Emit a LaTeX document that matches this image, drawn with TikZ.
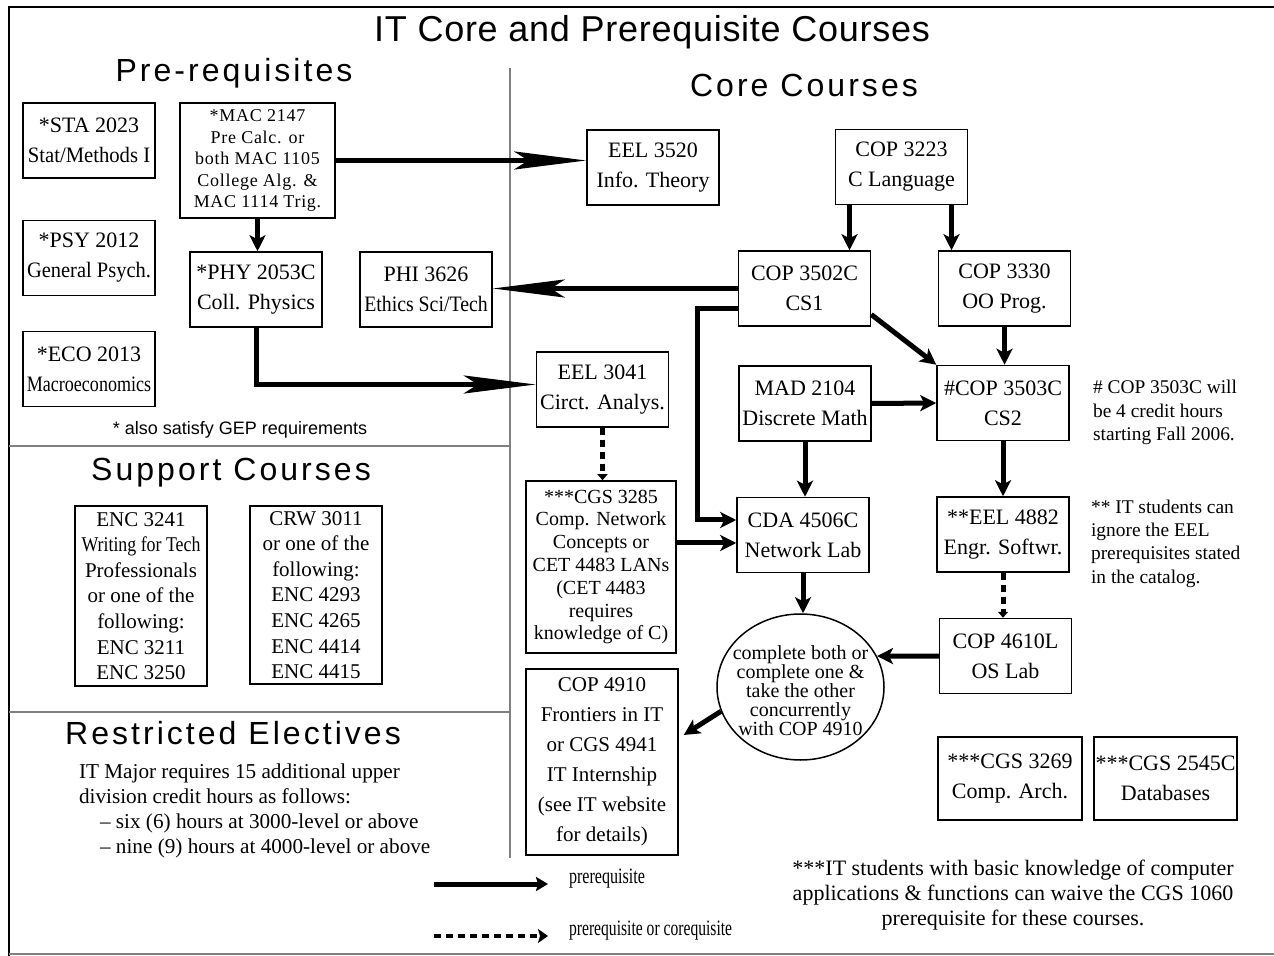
\documentclass[tikz,border=0pt]{standalone}
\usepackage{graphicx}
\usepackage{fontspec}
\setmainfont{Liberation Serif}
\setsansfont{Liberation Sans}
\newfontfamily\titlefont[LetterSpace=2]{Liberation Sans}
\newfontfamily\headfont[LetterSpace=9.5]{Liberation Sans}
\newfontfamily\macfont[LetterSpace=4]{Liberation Serif}
\usetikzlibrary{arrows.meta, shapes.geometric}
\newcommand{\squeeze}[2]{\scalebox{#1}[1]{#2}}

\begin{document}
\begin{tikzpicture}[x=0.5pt, y=-0.5pt,
  course/.style={draw, line width=0.75pt, align=center, inner sep=0pt,
    minimum width=66pt, minimum height=37.5pt, font=\fontsize{11}{15}\selectfont},
  heading/.style={anchor=base, font=\headfont\fontsize{16}{18}\selectfont},
  note/.style={align=left, font=\fontsize{9.7}{11.7}\selectfont},
  arr/.style={line width=2.5pt, -{Stealth[length=8pt, width=8pt, inset=2pt]}},
  longarr/.style={line width=2.5pt, -{Stealth[length=36pt, width=9pt, inset=7pt]}},
  dotarr/.style={line width=2.5pt, dash pattern=on 3.5pt off 2.5pt, -{Triangle[length=3pt, width=5pt]}},
  divider/.style={gray, line width=0.6pt}]
  \useasboundingbox (0,0) rectangle (1274,956);

  % frame and the three boxes on the left
  \draw[line width=1pt] (9,956) -- (9,7) -- (1274,7);
  \draw[divider] (9,954) -- (1274,954);
  \draw[divider] (510,68) -- (510,858);
  \draw[divider] (9,446) -- (510,446);
  \draw[divider] (9,712) -- (510,712);

  % headings
  \node[anchor=base, font=\titlefont\fontsize{18}{20}\selectfont] (title) at (652,42) {IT Core and Prerequisite Courses};
  \node[heading] (prehead) at (234,82) {Pre-requisites};
  \node[heading] (corehead) at (804,97) {Core Courses};
  \node[heading] (supphead) at (231,481) {Support Courses};
  \node[heading] (restrhead) at (233,744) {Restricted Electives};

  % pre-requisites
  \node[course] (sta) at (89,140.5) {*STA 2023\\\squeeze{0.94}{Stat/Methods I}};
  \node[course] (psy) at (89,258) {*PSY 2012\\\squeeze{0.93}{General Psych.}};
  \node[course] (eco) at (89,369) {*ECO 2013\\\squeeze{0.82}{Macroeconomics}};
  \node[course, minimum width=77.5pt, minimum height=57.5pt, font=\macfont\fontsize{9}{10.75}\selectfont] (mac) at (257.5,160.5)
    {*MAC 2147\\Pre Calc. or\\both MAC 1105\\College Alg. \&\\MAC 1114 Trig.};
  \node[course] (phy) at (256,289.5) {*PHY 2053C\\Coll. Physics};
  \node[course] (phi) at (426,289.5) {PHI 3626\\\squeeze{0.9}{Ethics Sci/Tech}};
  \node[anchor=base, font=\sffamily\fontsize{9}{10}\selectfont] (gep) at (240,435) {* also satisfy GEP requirements};

  % core courses
  \node[course] (eel3520) at (653,167.5) {EEL 3520\\Info. Theory};
  \node[course] (cop3223) at (901.5,167) {COP 3223\\C Language};
  \node[course] (cop3502) at (804.5,288.5) {COP 3502C\\CS1};
  \node[course] (cop3330) at (1004.5,288.5) {COP 3330\\OO Prog.};
  \node[course] (eel3041) at (602.5,389.5) {EEL 3041\\Circt. Analys.};
  \node[course] (mad) at (805,403.5) {MAD 2104\\Discrete Math};
  \node[course] (cop3503) at (1003,403) {\#COP 3503C\\CS2};
  \node[course, minimum width=75pt, minimum height=86pt, font=\fontsize{10}{11.4}\selectfont] (cgs3285) at (601,567)
    {***CGS 3285\\Comp. Network\\Concepts or\\CET 4483 LANs\\(CET 4483\\requires\\knowledge of C)};
  \node[course] (cda) at (803,535) {CDA 4506C\\Network Lab};
  \node[course] (eel4882) at (1003,534.5) {**EEL 4882\\Engr. Softwr.};
  \node[course] (cop4610) at (1005.5,656) {COP 4610L\\OS Lab};
  % the ellipse is drawn on its own, the text sits on top
  \node[draw, ellipse, line width=0.75pt, inner sep=0pt, minimum width=83.5pt, minimum height=73pt] (choice) at (800.5,687) {};
  \node[align=center, font=\fontsize{10}{9.5}\selectfont] (choicetext) at (800.5,691)
    {complete both or\\complete one \&\\take the other\\concurrently\\with COP 4910};
  \node[course, minimum width=76pt, minimum height=93pt, font=\fontsize{10.5}{15}\selectfont] (cop4910) at (602,762)
    {COP 4910\\Frontiers in IT\\or CGS 4941\\IT Internship\\(see IT website\\for details)};
  \node[course, minimum width=72pt, minimum height=41.5pt] (cgs3269) at (1010,778.5) {***CGS 3269\\Comp. Arch.};
  \node[course, minimum width=71.5pt, minimum height=41.5pt] (cgs2545) at (1165.5,778.5) {***CGS 2545C\\Databases};

  % support courses
  \node[course, minimum height=90pt, font=\fontsize{10.5}{12.8}\selectfont] (enc) at (141,596)
    {ENC 3241\\\squeeze{0.85}{Writing for Tech}\\Professionals\\or one of the\\following:\\ENC 3211\\ENC 3250};
  \node[course, minimum height=89pt, font=\fontsize{10.5}{12.8}\selectfont] (crw) at (316,595)
    {CRW 3011\\or one of the\\following:\\ENC 4293\\ENC 4265\\ENC 4414\\ENC 4415};

  % notes
  \node[note, anchor=west] (cs2note) at (1086,412.5) {\# COP 3503C will\\be 4 credit hours\\starting Fall 2006.};
  \node[note, anchor=west] (eelnote) at (1084,543.5) {** IT students can\\ignore the EEL\\prerequisites stated\\in the catalog.};
  \node[align=center, font=\fontsize{11}{12.5}\selectfont] (cgsnote) at (1013,895.5)
    {***IT students with basic knowledge of computer\\applications \& functions can waive the CGS 1060\\prerequisite for these courses.};
  \node[align=left, anchor=west, font=\fontsize{10.6}{12.5}\selectfont] (electnote) at (72,811)
    {IT Major requires 15 additional upper\\division credit hours as follows:\\\hspace*{10.5pt}-- six (6) hours at 3000-level or above\\\hspace*{10.5pt}-- nine (9) hours at 4000-level or above};

  % prerequisite arrows
  \draw[longarr] (mac.east) -- (mac.east -| eel3520.west);
  \draw[arr] (mac.south) -- (mac.south |- phy.north);
  \draw[longarr] (phy.south) |- ([yshift=2.5pt]eel3041.west);
  \draw[longarr] (cop3502.west) -- (cop3502.west -| phi.east);
  \draw[arr] ([xshift=-26pt]cop3223.south) -- ([xshift=-26pt]cop3223.south |- cop3502.north);
  \draw[arr] ([xshift=25pt]cop3223.south) -- ([xshift=25pt]cop3223.south |- cop3330.north);
  \draw[arr] ([yshift=-13pt]cop3502.east) -- (cop3503.north west);
  \draw[arr] (cop3330.south) -- (cop3330.south |- cop3503.north);
  \draw[arr] (mad.east) -- (cop3503.west);
  \draw[arr] (mad.south) -- (mad.south |- cda.north);
  \draw[arr] ([yshift=-10pt]cop3502.west) -- ++(-40,0) |- ([yshift=7.5pt]cda.west);
  \draw[arr] ([yshift=-4pt]cda.west -| cgs3285.east) -- ([yshift=-4pt]cda.west);
  \draw[arr] (cda.south) -- (cda.south |- choice.north);
  \draw[arr] (cop3503.south) -- (cop3503.south |- eel4882.north);
  \draw[dotarr] (eel4882.south) -- (eel4882.south |- cop4610.north);
  \draw[dotarr] (eel3041.south) -- (eel3041.south |- cgs3285.north);
  \draw[arr] (cop4610.west) -- (choice.22);
  \draw[arr] (choice.197) -- ([xshift=2.5pt, yshift=13.5pt]cop4910.east);

  % legend
  \coordinate (lgsa) at (434,884);
  \coordinate (lgsb) at (548,884);
  \coordinate (lgda) at (434,936);
  \coordinate (lgdb) at (548,936);
  \node[anchor=base west, font=\fontsize{11}{12}\selectfont] (lgsolid) at (562,883) {\squeeze{0.73}{prerequisite}};
  \node[anchor=base west, font=\fontsize{11}{12}\selectfont] (lgdot) at (562,935) {\squeeze{0.71}{prerequisite or corequisite}};
  \draw[line width=2.5pt, -{Stealth[length=6pt, width=7pt, inset=1pt]}] (lgsa) -- (lgsb);
  \draw[line width=2pt, dash pattern=on 3.5pt off 2.5pt, -{Stealth[length=5pt, width=7pt, inset=1pt]}] (lgda) -- (lgdb);
\end{tikzpicture}
\end{document}
